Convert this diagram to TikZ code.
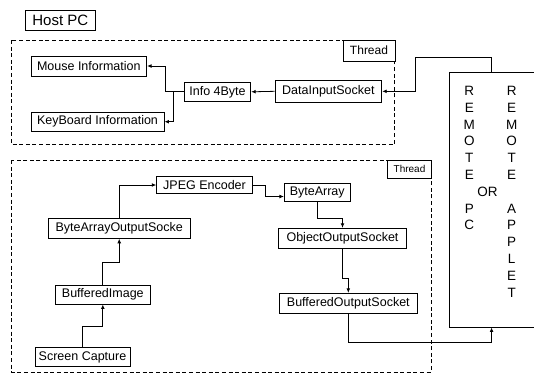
\documentclass[tikz,border=0pt]{standalone}
\usepackage{fontspec}
\setmainfont{Liberation Sans}
\usetikzlibrary{arrows.meta}
\begin{document}
\begin{tikzpicture}[x=1pt,y=-1pt,
  box/.style={draw, line width=0.9pt, inner sep=0pt, fill=white,
    font=\fontsize{12.5}{15}\selectfont},
  threadtag/.style={draw, line width=0.9pt, inner sep=0pt, fill=white},
  pane/.style={line width=0.9pt, dash pattern=on 4pt off 2.6pt},
  conn/.style={line width=0.8pt, -{Latex[length=4.5pt,width=3.8pt]}},
  remtxt/.style={inner sep=0pt, align=center,
    font=\fontsize{13.5}{16.8}\selectfont},
]
\useasboundingbox (0,0) rectangle (534,376);
\clip (0,0) rectangle (534,376);

% title
\node[draw, line width=0.9pt, inner sep=0pt, minimum width=70pt, minimum height=20pt,
  font=\fontsize{15}{18}\selectfont] (host) at (60.3,20.7) {Host PC};

% receiving thread
\draw[pane] (11.5,40) rectangle (394.5,144.5);
\node[threadtag, minimum width=52pt, minimum height=21pt,
  font=\fontsize{12}{14}\selectfont] (thread1) at (369,50.5) {Thread};

\node[box, minimum width=115.7pt, minimum height=20pt] (mouse) at (88.8,66) {Mouse Information};
\node[box, minimum width=133pt, minimum height=19pt] (keyboard) at (97.5,121.7) {KeyBoard Information};
\node[box, minimum width=66.4pt, minimum height=19pt] (info) at (217.5,91.8) {Info 4Byte};
\node[box, minimum width=106.7pt, minimum height=21.7pt] (datain) at (328.4,91.3) {DataInputSocket};

% sending thread
\draw[pane] (11.5,160) rectangle (431,372);
\node[threadtag, minimum width=44pt, minimum height=18.3pt,
  font=\fontsize{10}{12}\selectfont] (thread2) at (409.5,169.2) {Thread};

\node[box, minimum width=95.6pt, minimum height=17pt] (jpeg) at (204.5,185) {JPEG Encoder};
\node[box, minimum width=141.7pt, minimum height=20pt] (baos) at (119.2,228.3) {ByteArrayOutputSocke};
\node[box, minimum width=95.7pt, minimum height=19pt] (bufimg) at (102.8,294.5) {BufferedImage};
\node[box, minimum width=95pt, minimum height=19.4pt] (screen) at (82.5,357) {Screen Capture};
\node[box, minimum width=65.7pt, minimum height=18.4pt] (bytearray) at (317.2,192.5) {ByteArray};
\node[box, minimum width=128.4pt, minimum height=20pt] (objout) at (342.5,238.3) {ObjectOutputSocket};
\node[box, minimum width=138pt, minimum height=20pt] (bufout) at (348.3,303.3) {BufferedOutputSocket};

% remote side
\node[draw, line width=0.9pt, minimum width=100pt, minimum height=255pt] (remote) at (499,199.5) {};
\node[remtxt, anchor=north] (remleft) at (469.3,86) {R\\E\\M\\O\\T\\E\\[16.8pt]P\\C};
\node[remtxt, anchor=north] (remright) at (511.7,86) {R\\E\\M\\O\\T\\E\\[16.8pt]A\\P\\P\\L\\E\\T};
\node[remtxt] (remor) at (487.5,192) {OR};

\coordinate (remin) at ([xshift=43pt]remote.south west);
\coordinate (remout) at ([xshift=43pt]remote.north west);

% receiving path
\draw[conn] (remout) -- ++(0,-13.7) -| ([xshift=33pt]datain.east) -- (datain.east);
\draw[conn] (datain.west) -- (info.east);
\draw[conn] (info.west) -- ++(-18.5,0) |- (mouse.east);
\draw[conn] (info.west) -- ++(-10,0) |- (keyboard.east);

% sending path
\draw[conn] (screen.north) -- ++(0,-20.3) -| (bufimg.south);
\draw[conn] (bufimg.north) -- ++(0,-21.7) -| (baos.south);
\draw[conn] (baos.north) |- (jpeg.west);
\draw[conn] (jpeg.east) -- ++(12.5,0) |- ([yshift=-4pt]bytearray.west);
\draw[conn] (bytearray.south) -- ++(0,16.3) -| (objout.north);
\draw[conn] (objout.south) -- ++(0,30) -| (bufout.north);
\draw[conn] (bufout.south) -- ++(0,28.4) -| (remin);
\end{tikzpicture}
\end{document}
